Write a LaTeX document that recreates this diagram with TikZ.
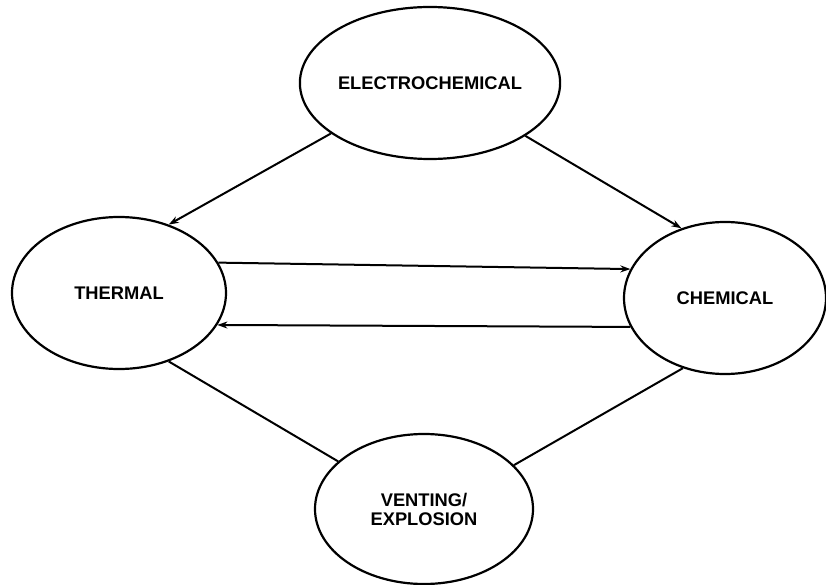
\documentclass[tikz,border=0pt]{standalone}
\usepackage{fontspec}
\setmainfont{Liberation Sans}
\usetikzlibrary{shapes.geometric,arrows.meta}
\begin{document}
\begin{tikzpicture}[x={(1pt,0)},y={(0,-1pt)},
  state/.style={ellipse,draw,line width=2.2pt,inner sep=0pt,
    font=\fontsize{18.3}{19}\selectfont\bfseries,align=center},
  link/.style={line width=2pt},
  flow/.style={link,-{Stealth[length=10pt,width=7pt]}}]
  \useasboundingbox (0,0) rectangle (826,585);
  % the four states
  \node[state,minimum width=214pt,minimum height=152pt] (elec) at (430,83) {ELECTROCHEMICAL};
  \node[state,minimum width=214pt,minimum height=152pt] (therm) at (119,293) {THERMAL};
  \node[state,minimum width=202pt,minimum height=152pt] (chem) at (725,298) {CHEMICAL};
  \node[state,minimum width=218pt,minimum height=150pt] (vent) at (424,509) {VENTING/\\EXPLOSION};
  % directed transitions
  \draw[flow] (elec.207) -- (therm.54);
  \draw[flow] (elec.331) -- (chem.122);
  \draw[flow] (therm.17) -- (chem.163);
  \draw[flow] (chem.197) -- (therm.342);
  % undirected links to venting
  \draw[link] (therm.306) -- (vent.151);
  \draw[link] (chem.239) -- (vent.26);
\end{tikzpicture}
\end{document}
